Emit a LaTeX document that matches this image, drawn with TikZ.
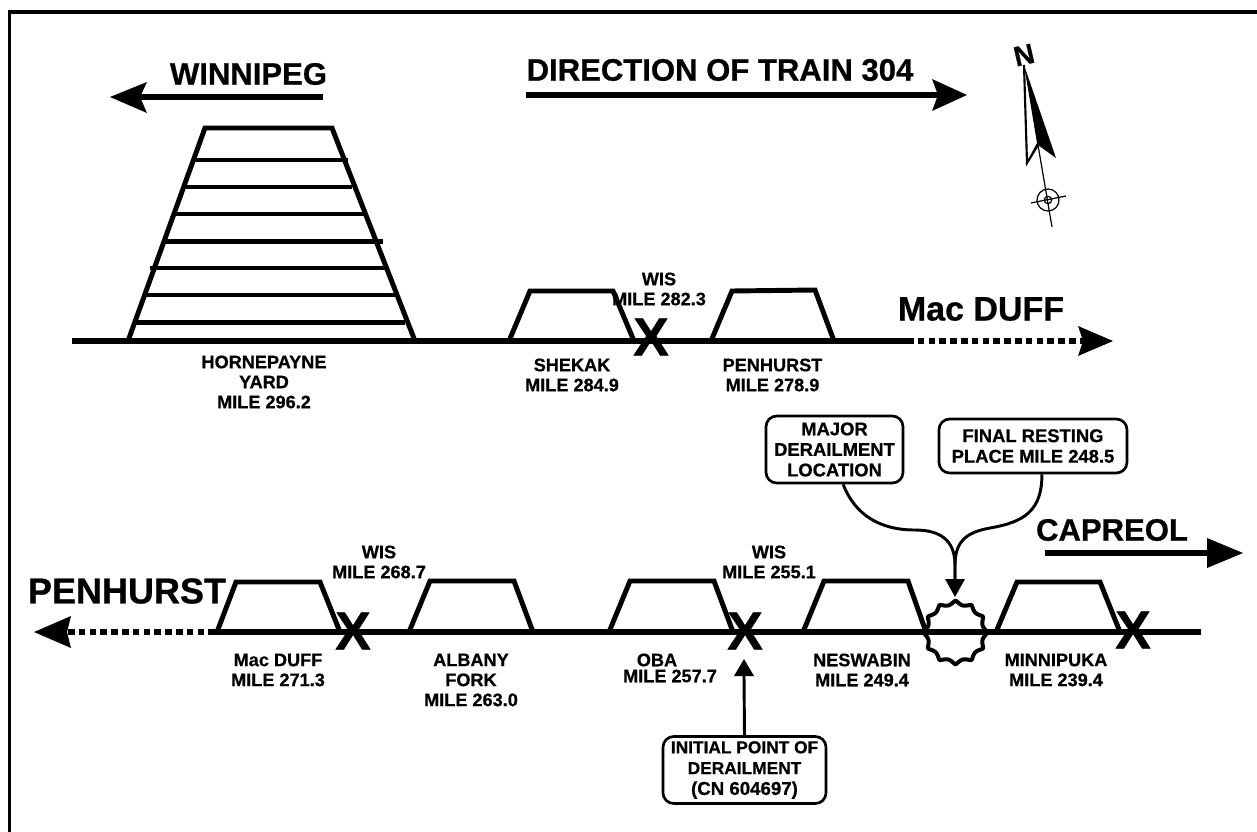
\documentclass[tikz,border=0pt]{standalone}
\usepackage{fontspec}
\setmainfont[BoldFeatures={FakeBold=0.7}]{Liberation Sans}
\newcommand{\szpx}[2]{\fontsize{#1}{#2}\selectfont}
\tikzset{
  px/.style={x=0.75pt,y=-0.75pt},
  track/.style={line width=4.5pt,line cap=butt},
  siding/.style={line width=3.7pt,line join=miter},
  rung/.style={line width=3.6pt},
  dots/.style={line width=4.5pt,dash pattern=on 5pt off 3.1pt},
  bigline/.style={line width=4.5pt},
  hd/.style={fill=black,draw=none},
  lab/.style={font=\bfseries\szpx{13.6}{15},align=center,inner sep=0pt},
  big/.style={font=\bfseries,align=center,inner sep=0pt},
  xmark/.style={font=\bfseries\szpx{40}{40},inner sep=0pt},
  callout/.style={draw,line width=2pt,rounded corners=8pt,font=\bfseries\szpx{13.8}{15.4},align=center,inner sep=0pt},
  lead/.style={line width=2.2pt}
}
\begin{document}
\begin{tikzpicture}[px]
\useasboundingbox (0,0) rectangle (1257,832);
\fill[white] (0,0) rectangle (1257,832);
% frame
\draw[line width=2.7pt] (9.5,832) -- (9.5,12) -- (1257,12);
% top direction arrows
\coordinate (wE) at (323,97); \coordinate (wB) at (140,97);
\draw[bigline] (wE) -- (wB);
\fill[hd] (110,97) -- (147,82) -- (140,97) -- (147,113) -- cycle;
\node[big,font=\bfseries\szpx{23.3}{24}] (winnipeg) at (248.5,74) {WINNIPEG};
\coordinate (dS) at (526,95); \coordinate (dE) at (938,95);
\draw[bigline] (dS) -- (dE);
\fill[hd] (967,95) -- (932,79) -- (938,95) -- (932,111) -- cycle;
\node[big,font=\bfseries\szpx{23.3}{24}] (direction) at (720,70) {DIRECTION OF TRAIN 304};
% compass
\node[font=\bfseries\szpx{21}{21},inner sep=0pt,rotate=13] (north) at (1024,55) {N};
\draw[line width=1.6pt,line join=miter,fill=white] (1024,65) -- (1027,163) -- (1038,145);
\fill[black] (1024,65) -- (1056,158) -- (1038,145) -- (1027,163) -- (1029.5,157) -- (1037,143) -- cycle;
\draw[line width=0.9pt] (1038,145) -- (1052,227);
\draw[line width=0.9pt] (1048,200) circle (11);
\draw[line width=0.9pt] (1048,200) circle (3.7);
\draw[line width=0.9pt] (1031,203) -- (1066,196);
% upper track
\coordinate (t1) at (72,341); \coordinate (t2) at (907,341); \coordinate (t3) at (1084,341);
\draw[track] (t1) -- (t2);
\draw[dots] (t2) -- (t3);
\fill[hd] (1113,341) -- (1078,326) -- (1083,341) -- (1078,356) -- cycle;
% Hornepayne yard
\draw[siding] (128,341) -- (205,128) -- (332,128) -- (415,341);
\foreach \yy/\xa/\xb in {160/195/348,187/186/352,214/175/365,241.5/165/383,268/150/388,295/145/395,322.5/135/405}
  \draw[rung] (\xa,\yy) -- (\xb,\yy);
\draw[siding] (509,341) -- (530,291) -- (613,291) -- (634,341);
\draw[siding] (711,341) -- (732,291) -- (815,290) -- (834,341);
\node[xmark] (x1) at (651,337) {X};
\node[lab] (horne) at (264,382) {HORNEPAYNE\\YARD\\MILE 296.2};
\node[lab] (shekak) at (572,375) {SHEKAK\\MILE 284.9};
\node[lab] (penh) at (772.5,375) {PENHURST\\MILE 278.9};
\node[lab] (wis1) at (659,289) {WIS\\MILE 282.3};
\node[big,font=\bfseries\szpx{25.5}{26}] (macduff) at (981,309) {Mac DUFF};
% lower track
\coordinate (b1) at (215,632); \coordinate (b2) at (1201,632); \coordinate (b0) at (65,632);
\draw[track] (b1) -- (b2);
\draw[dots] (b1) -- (b0);
\fill[hd] (34,632) -- (71,616) -- (67,632) -- (71,648) -- cycle;
\draw[siding] (217,632) -- (236,582) -- (320,582) -- (340,632);
\draw[siding] (409,632) -- (430,581) -- (514,581) -- (533,632);
\draw[siding] (609,632) -- (630,581) -- (714,581) -- (733,632);
\draw[siding] (803,632) -- (824,581) -- (908,581) -- (926,632);
\draw[siding] (996,632) -- (1017,582) -- (1100,582) -- (1120,632);
\node[xmark] (x2) at (353,631) {X};
\node[xmark] (x3) at (745,631) {X};
\node[xmark] (x4) at (1133,630) {X};
\draw[line width=3pt,line join=round] plot[domain=0:360,samples=145] ({955.5+(28+4*(1-abs(sin(6*\x))))*cos(\x)},{632.5+(28+4*(1-abs(sin(6*\x))))*sin(\x)}) -- cycle;
\node[big,font=\bfseries\szpx{27}{28}] (penhlab) at (127,591) {PENHURST};
\coordinate (cS) at (1045,553); \coordinate (cE) at (1212,553);
\draw[bigline] (cS) -- (cE);
\fill[hd] (1243,553) -- (1207,538) -- (1207,568) -- cycle;
\node[big,font=\bfseries\szpx{23.3}{24}] (capreol) at (1112,530) {CAPREOL};
\node[lab] (mac2) at (278,670) {Mac DUFF\\MILE 271.3};
\node[lab] (wis2) at (379,562) {WIS\\MILE 268.7};
\node[lab] (albany) at (471,680) {ALBANY\\FORK\\MILE 263.0};
\node[lab] (oba1) at (657,660) {OBA};
\node[lab] (oba2) at (670,676) {MILE 257.7};
\node[lab] (wis3) at (769,562) {WIS\\MILE 255.1};
\node[lab] (nes) at (862,670) {NESWABIN\\MILE 249.4};
\node[lab] (minn) at (1056,670) {MINNIPUKA\\MILE 239.4};
% callouts
\node[callout,minimum width=137pt*3/4,minimum height=67pt*3/4] (major) at (834.5,449.5) {MAJOR\\DERAILMENT\\LOCATION};
\node[callout,minimum width=188pt*3/4,minimum height=54pt*3/4] (final) at (1033,446) {FINAL RESTING\\PLACE MILE 248.5};
\node[callout,font=\bfseries\szpx{13}{15.6},minimum width=163pt*3/4,minimum height=67pt*3/4] (init) at (744.5,770) {INITIAL POINT OF\\DERAILMENT\\{\szpx{14}{15.6}(CN 604697)}};
\coordinate (join) at (955,580);
\draw[lead] ([xshift=6.5pt]major.south) .. controls (855,515) and (880,530) .. (915,530) .. controls (940,530) and (955,540) .. (955,565) -- (join);
\draw[lead] ([xshift=6.7pt]final.south) .. controls (1042,510) and (1025,522) .. (990,528) .. controls (968,532) and (955,540) .. (955,565) -- (join);
\fill[hd] (955,597) -- (945,579) -- (965,579) -- cycle;
\coordinate (initTip) at (744,676);
\draw[lead] (init.north) -- (initTip);
\fill[hd] (744,659) -- (734,676) -- (754,676) -- cycle;
\end{tikzpicture}
\end{document}
